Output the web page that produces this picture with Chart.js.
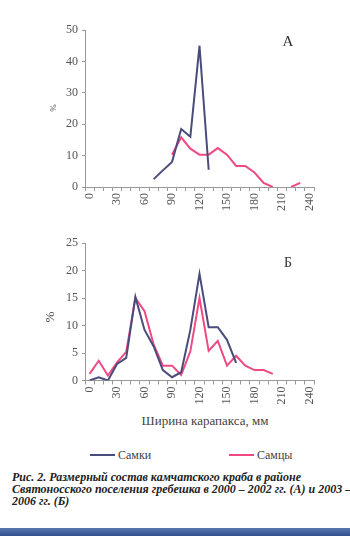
<!DOCTYPE html>
<html><head><meta charset="utf-8">
<script src="https://cdn.jsdelivr.net/npm/chart.js@4/dist/chart.umd.min.js"></script>
<style>
html,body{margin:0;padding:0;background:#fff;}
body{width:350px;height:536px;position:relative;overflow:hidden;font-family:"Liberation Serif","Times New Roman",Tinos,"DejaVu Serif","Noto Serif",FreeSerif,serif;color:#333;}
.abs{position:absolute;white-space:nowrap;}
#wa{position:absolute;left:0;top:0;width:350px;height:216px;}
#wb{position:absolute;left:0;top:216px;width:350px;height:194px;}
.rot{transform:translate(-50%,-50%) rotate(-90deg);}
.cap{font-weight:bold;font-style:italic;font-size:12px;color:#222;left:12px;}
</style></head>
<body>
<div id="wa"><canvas id="ca"></canvas></div>
<div id="wb"><canvas id="cb"></canvas></div>
<div class="abs rot" style="left:53px;top:108px;font-size:9px;color:#555;">%</div>
<div class="abs rot" style="left:50px;top:317px;font-size:13px;color:#444;">%</div>
<div class="abs" style="left:288px;top:41px;transform:translate(-50%,-50%);font-size:15px;color:#333;">А</div>
<div class="abs" style="left:288px;top:263px;transform:translate(-50%,-50%);font-size:14px;color:#333;">Б</div>
<div class="abs" style="left:205px;top:421px;transform:translate(-50%,-50%);font-size:13px;color:#444;">Ширина карапакса, мм</div>
<div class="abs" style="left:90px;top:454px;width:25px;height:2px;background:#4a4c7c;"></div>
<div class="abs" style="left:118px;top:455px;transform:translateY(-50%);font-size:12px;color:#444;">Самки</div>
<div class="abs" style="left:229px;top:454px;width:25px;height:2px;background:#ef4a84;"></div>
<div class="abs" style="left:257px;top:455px;transform:translateY(-50%);font-size:12px;color:#444;">Самцы</div>
<div class="abs cap" style="top:470px;">Рис. 2. Размерный состав камчатского краба в районе</div>
<div class="abs cap" style="top:482px;">Святоносского поселения гребешка в 2000 – 2002 гг. (А) и 2003 –</div>
<div class="abs cap" style="top:494px;">2006 гг. (Б)</div>
<div class="abs" style="left:0;top:528px;width:350px;height:8px;background:linear-gradient(#5a78b0,#2f4f8c);"></div>
<script>
// Categories: carapace width, mm
const widths = [0,10,20,30,40,50,60,70,80,90,100,110,120,130,140,150,160,170,180,190,200,210,220,230,240];
const xTickLabels = [0,30,60,90,120,150,180,210,240];
// Panel A (2000–2002), %
const femalesA = [null,null,null,null,null,null,null,2.5,5.3,8,18.5,16,45,5.5,null,null,null,null,null,null,null,null,null,null,null];
const malesA   = [null,null,null,null,null,null,null,null,null,10.3,15.8,12.2,10.3,10.3,12.4,10.3,6.7,6.7,4.6,1.3,0,null,0,1.3,null];
// Panel B (2003–2006), %
const femalesB = [0,0.6,0,3,4.1,15.2,9.2,6.2,1.9,0.6,1.5,9.2,19.4,9.7,9.7,7.4,3.2,null,null,null,null,null,null,null,null];
const malesB   = [1.2,3.6,0.9,3.3,5.2,15,12.6,6.5,2.7,2.7,1,5.3,15,5.4,7.2,2.7,4.5,2.7,1.9,1.9,1.2,null,null,null,null];
const yTicksA = {max:50, step:5};
const yTicksB = {max:25, step:5};

const NAVY = '#4a4c7c', PINK = '#ef4a84', AXIS = '#9a9a9a', TXT = '#555';
const font = {family:"'Liberation Serif', 'Times New Roman', Tinos, 'DejaVu Serif', 'Noto Serif', serif", size:12};

function pts(arr){ return widths.map((w,i)=>({x:w, y:arr[i]})); }

function makeChart(id, fem, mal, yt, padTop, xH){
  return new Chart(document.getElementById(id), {
    type:'line',
    data:{datasets:[
      {label:'Самки', data:pts(fem), borderColor:NAVY, borderWidth:2, pointRadius:0, tension:0, spanGaps:false},
      {label:'Самцы', data:pts(mal), borderColor:PINK, borderWidth:2, pointRadius:0, tension:0, spanGaps:false}
    ]},
    options:{
      responsive:true, maintainAspectRatio:false, animation:false,
      layout:{padding:{left:0, right:36, top:padTop, bottom:0}},
      plugins:{legend:{display:false}, tooltip:{enabled:false}},
      scales:{
        x:{type:'linear', min:-5, max:245,
          afterBuildTicks:(s)=>{ const t=[]; for(let v=-5; v<=245; v+=5) t.push({value:v}); s.ticks=t; },
          afterFit:(s)=>{ s.height = xH; },
          ticks:{autoSkip:false, minRotation:90, maxRotation:90, color:TXT, font:font, padding:2,
            callback:(v)=> xTickLabels.includes(v) ? String(v) : ''},
          grid:{drawOnChartArea:false, drawTicks:true, tickLength:4,
            color:(c)=> (((c.tick && c.tick.value)+5) % 10 === 0) ? AXIS : 'rgba(0,0,0,0)'},
          border:{display:true, color:AXIS, width:1}
        },
        y:{min:0, max:yt.max,
          afterFit:(s)=>{ s.width = 85; },
          ticks:{stepSize:yt.step, color:TXT, font:font, padding:4},
          grid:{drawOnChartArea:false, drawTicks:true, tickLength:3, color:AXIS},
          border:{display:true, color:AXIS, width:1}
        }
      }
    }
  });
}
makeChart('ca', femalesA, malesA, yTicksA, 30, 29);
makeChart('cb', femalesB, malesB, yTicksB, 27, 29.5);
</script>
</body></html>
